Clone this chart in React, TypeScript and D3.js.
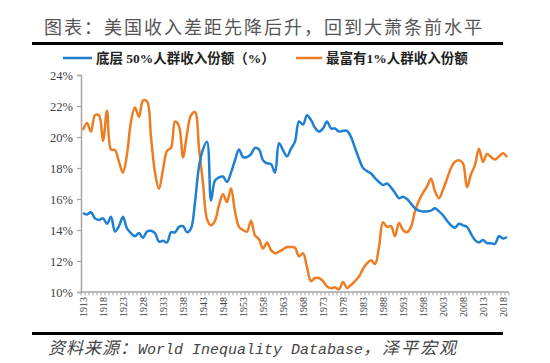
import { useEffect, useRef } from "react";
import * as d3 from "d3";

// categories: one per year, 1913..2019
const years = d3.range(1913, 2020);

// share of income, bottom 50% (%)
const bottom50 = [
  15.1, 15.0, 15.15, 14.75, 14.65, 14.75, 14.4, 14.85, 13.9, 14.25,
  14.85, 14.1, 13.8, 13.6, 13.8, 13.5, 13.9, 13.95, 13.8, 13.25,
  13.3, 13.2, 13.85, 13.85, 14.2, 14.25, 13.85, 14.1, 15.8, 18.1,
  19.2, 19.7, 15.9, 17.2, 17.4, 17.45, 17.1, 17.7, 18.5, 19.2,
  18.7, 18.7, 18.9, 19.3, 19.2, 18.5, 18.3, 18.25, 17.7, 19.6,
  19.15, 18.75, 19.25, 19.7, 21.0, 20.8, 21.4, 21.1, 20.6, 20.35,
  20.55, 21.0, 20.55, 20.55, 20.35, 20.4, 20.4, 20.0, 19.3, 18.6,
  18.0, 17.8, 17.65, 17.35, 17.1, 16.9, 17.0, 16.75, 16.4, 16.05,
  16.15, 16.0, 15.7, 15.4, 15.25, 15.2, 15.2, 15.25, 15.4, 15.2,
  14.95, 14.6, 14.3, 14.15, 14.4, 14.3, 14.2, 13.75, 13.35, 13.2,
  13.35, 13.15, 13.15, 13.1, 13.6, 13.45, 13.55,
];

// share of income, top 1% (%)
const top1 = [
  20.45, 20.9, 20.35, 21.4, 21.4, 19.75, 21.7, 19.2, 19.15, 18.4,
  17.7, 18.9, 21.0, 21.9, 21.3, 22.35, 22.3, 20.0, 17.7, 16.65,
  17.9, 19.1, 19.3, 21.0, 20.7, 18.7, 20.2, 21.4, 21.6, 19.3,
  17.0, 14.7, 14.3, 14.6, 15.6, 16.3, 15.8, 16.7, 15.2, 14.2,
  14.0, 13.9, 14.6, 13.65, 13.4, 12.8, 13.2, 12.7, 12.5, 12.6,
  12.75, 12.9, 12.9, 12.85, 12.3, 12.5, 11.6, 10.7, 10.9, 10.9,
  10.7, 10.35, 10.25, 10.3, 10.17, 10.65, 10.25, 10.45, 10.7, 11.0,
  11.5, 11.85, 12.05, 11.8, 12.9, 14.5, 14.2, 14.25, 13.6, 14.45,
  14.0, 13.85, 14.2, 15.2, 15.9, 16.4, 16.8, 17.3, 16.5, 16.05,
  16.6, 17.3, 18.0, 18.4, 18.5, 18.3, 16.75, 17.6, 18.2, 19.25,
  18.4, 18.9, 18.7, 18.55, 18.75, 18.95, 18.7,
];

const yTicks = [10, 12, 14, 16, 18, 20, 22, 24];
const labelYears = [
  1913, 1918, 1923, 1928, 1933, 1938, 1943, 1948, 1953, 1958, 1963, 1968,
  1973, 1978, 1983, 1988, 1993, 1998, 2003, 2008, 2013, 2018,
];

const title = "图表：美国收入差距先降后升，回到大萧条前水平";
const seriesNames = ["底层 50%人群收入份额（%）", "最富有1%人群收入份额"];

const blue = "#1f7fd0";
const orange = "#ee7d22";
const axisGray = "#a6a6a6";

const App = () => {
  const svgRef = useRef(null);

  useEffect(() => {
    const svg = d3.select(svgRef.current);
    svg.selectAll("*").remove();

    const margin = { top: 75, right: 41, bottom: 71, left: 81 };
    const width = 550;
    const height = 363;

    const x = d3
      .scaleBand()
      .domain(years.map(String))
      .range([margin.left, width - margin.right]);

    const y = d3
      .scaleLinear()
      .domain([10, 24])
      .range([height - margin.bottom, margin.top]);

    const cx = (yr) => x(String(yr)) + x.bandwidth() / 2;

    // title and rules
    svg
      .append("text")
      .attr("x", 264)
      .attr("y", 34)
      .attr("text-anchor", "middle")
      .attr("font-family", "'Noto Sans CJK SC', sans-serif")
      .attr("font-size", 18)
      .attr("letter-spacing", 2)
      .attr("fill", "#555")
      .text(title);

    [43.5, 333.5].forEach((ly) => {
      svg
        .append("line")
        .attr("x1", 32)
        .attr("x2", 503)
        .attr("y1", ly)
        .attr("y2", ly)
        .attr("stroke", "#000")
        .attr("stroke-width", 3);
    });

    // legend
    const legend = [
      { name: seriesNames[0], color: blue, x0: 63, x1: 92 },
      { name: seriesNames[1], color: orange, x0: 296, x1: 322 },
    ];
    legend.forEach((l) => {
      svg
        .append("line")
        .attr("x1", l.x0)
        .attr("x2", l.x1)
        .attr("y1", 58)
        .attr("y2", 58)
        .attr("stroke", l.color)
        .attr("stroke-width", 2.5);
      svg
        .append("text")
        .attr("x", l.x1 + 4)
        .attr("y", 62.5)
        .attr("font-family", "'Liberation Serif', 'Noto Sans CJK SC', serif")
        .attr("font-weight", "bold")
        .attr("font-size", 13.5)
        .attr("fill", "#222")
        .text(l.name);
    });

    // y axis
    svg
      .append("g")
      .attr("transform", `translate(${margin.left},0)`)
      .call(
        d3
          .axisLeft(y)
          .tickValues(yTicks)
          .tickSize(4)
          .tickPadding(4)
          .tickFormat((d) => `${d}%`)
      )
      .call((g) => g.select(".domain").attr("stroke", axisGray).attr("stroke-width", 1.5))
      .call((g) => g.selectAll(".tick line").attr("stroke", axisGray).attr("stroke-width", 1.2))
      .call((g) =>
        g
          .selectAll(".tick text")
          .attr("font-family", "'Liberation Serif', serif")
          .attr("font-size", 12.5)
          .attr("fill", "#404040")
      );

    // x axis: line, a tick at every category boundary, labels every 5 years
    const xg = svg.append("g");
    const y0 = y(10);
    xg.append("line")
      .attr("x1", margin.left)
      .attr("x2", x.range()[1])
      .attr("y1", y0)
      .attr("y2", y0)
      .attr("stroke", axisGray)
      .attr("stroke-width", 1.5);

    xg.selectAll("line.tk")
      .data(years.concat([years[years.length - 1] + 1]))
      .join("line")
      .attr("class", "tk")
      .attr("x1", (d, i) => margin.left + i * x.bandwidth())
      .attr("x2", (d, i) => margin.left + i * x.bandwidth())
      .attr("y1", y0)
      .attr("y2", y0 + 3.5)
      .attr("stroke", axisGray)
      .attr("stroke-width", 1);

    xg.selectAll("text")
      .data(labelYears)
      .join("text")
      .attr("transform", (d) => `translate(${cx(d) + 0.5},${y0 + 5}) rotate(-90)`)
      .attr("text-anchor", "end")
      .attr("dy", "0.35em")
      .attr("font-family", "'Liberation Serif', serif")
      .attr("font-size", 10)
      .attr("fill", "#404040")
      .text((d) => d);

    // series
    const line = d3
      .line()
      .x((d, i) => cx(years[i]))
      .y((d) => y(d))
      .curve(d3.curveCatmullRom.alpha(0.5));

    [
      { data: top1, color: orange },
      { data: bottom50, color: blue },
    ].forEach((s) => {
      svg
        .append("path")
        .datum(s.data)
        .attr("fill", "none")
        .attr("stroke", s.color)
        .attr("stroke-width", 2.5)
        .attr("stroke-linejoin", "round")
        .attr("d", line);
    });

    // source note
    const src = svg
      .append("text")
      .attr("x", 48)
      .attr("y", 354)
      .attr("font-style", "italic")
      .attr("fill", "#444");
    src
      .append("tspan")
      .attr("font-family", "'Noto Sans CJK SC', sans-serif")
      .attr("font-size", 17)
      .attr("letter-spacing", 1)
      .text("资料来源：");
    src
      .append("tspan")
      .attr("font-family", "'Liberation Mono', monospace")
      .attr("font-size", 15)
      .text("World Inequality Database");
    src
      .append("tspan")
      .attr("font-family", "'Noto Sans CJK SC', sans-serif")
      .attr("font-size", 17)
      .attr("letter-spacing", 2)
      .text("，泽平宏观");
  }, []);

  return (
    <svg
      ref={svgRef}
      width={550}
      height={363}
      style={{ position: "absolute", left: 0, top: 0, background: "#fff" }}
    />
  );
};

export default App;
